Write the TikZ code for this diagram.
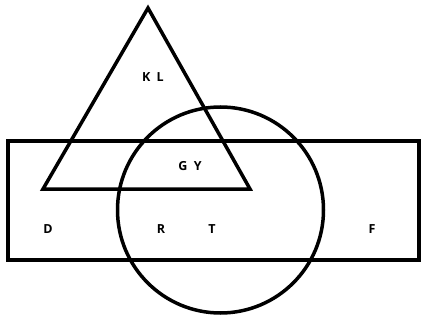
\documentclass[tikz,border=0pt]{standalone}
\usepackage{fontspec}
\setmainfont{Open Sans}
\begin{document}
\begin{tikzpicture}[x=1pt,y=-1pt,
  shape line/.style={line width=3.5pt, line join=miter},
  lbl/.style={font=\bfseries\fontsize{12.5}{14}\selectfont, inner sep=0pt}]
\useasboundingbox (0,0) rectangle (421,321);
\coordinate (apex) at (148,8);
\coordinate (bl) at (43,189);
\coordinate (br) at (250,189);
\draw[shape line] (8,141) rectangle (419,260);
\draw[shape line] (apex) -- (bl) -- (br) -- cycle;
\draw[shape line] (220.5,210) circle[radius=103];
\node[lbl] (kl) at (153,77) {K\enspace L};
\node[lbl] (gy) at (190,166) {G\enspace Y};
\node[lbl] (d) at (48,229) {D};
\node[lbl] (r) at (161,229) {R};
\node[lbl] (t) at (212,229) {T};
\node[lbl] (f) at (372,229) {F};
\end{tikzpicture}
\end{document}
